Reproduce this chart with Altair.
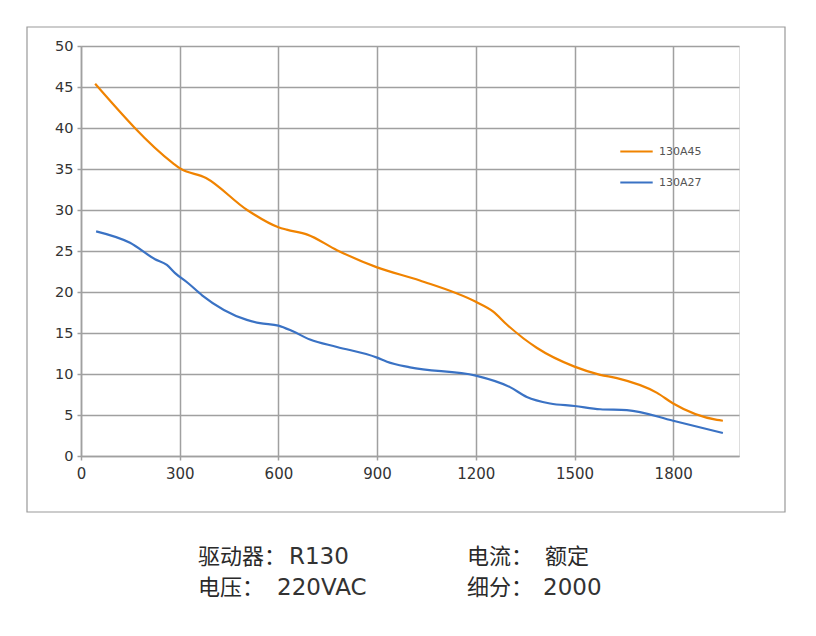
import altair as alt
import pandas as pd

# Data
a45_speed = [43, 280, 300, 380, 505, 600, 625, 688, 778, 900, 1030, 1200, 1253, 1295, 1385, 1500, 1578, 1629, 1751, 1800, 1933, 1951]
a45_torque = [45.4, 35.7, 35.1, 33.9, 30.0, 27.9, 27.6, 27.0, 25.1, 23.0, 21.4, 18.8, 17.6, 16.0, 13.2, 10.9, 9.9, 9.5, 7.7, 6.4, 4.4, 4.3]
a27_speed = [46, 149, 225, 261, 286, 325, 368, 504, 544, 600, 644, 696, 778, 900, 930, 1000, 1200, 1304, 1355, 1426, 1500, 1578, 1659, 1800, 1951]
a27_torque = [27.4, 26.0, 24.0, 23.3, 22.3, 21.1, 19.6, 16.6, 16.2, 15.9, 15.2, 14.2, 13.3, 12.0, 11.5, 10.8, 9.8, 8.4, 7.2, 6.4, 6.1, 5.7, 5.6, 4.3, 2.8]
series_names = ["130A45", "130A27"]
series_colors = ["#F08300", "#3A72C4"]
x_ticks = [0, 300, 600, 900, 1200, 1500, 1800]
y_ticks = [0, 5, 10, 15, 20, 25, 30, 35, 40, 45, 50]
caption_keys = ["驱动器：", "电压：", "电流：", "细分："]
caption_values = ["R130", "220VAC", "额定", "2000"]

rows = []
for s, t in zip(a45_speed, a45_torque):
    rows.append({"speed": s, "torque": t, "series": series_names[0]})
for s, t in zip(a27_speed, a27_torque):
    rows.append({"speed": s, "torque": t, "series": series_names[1]})
df = pd.DataFrame(rows)

W, H = 658, 410
grid_color = "#a0a0a0"

lines = alt.Chart(df).mark_line(strokeWidth=2.2, interpolate="monotone").encode(
    x=alt.X("speed:Q", scale=alt.Scale(domain=[0, 2000], nice=False),
            axis=alt.Axis(values=x_ticks, format="d", title=None, grid=True, gridColor=grid_color, gridWidth=1.5,
                          domainColor=grid_color, domainWidth=1.5, tickColor=grid_color, tickWidth=1.5,
                          tickSize=4, labelPadding=6, labelFontSize=15, labelColor="#333",
                          labelFont="DejaVu Sans", labelFlush=False)),
    y=alt.Y("torque:Q", scale=alt.Scale(domain=[0, 50], nice=False),
            axis=alt.Axis(values=y_ticks, title=None, grid=True, gridColor=grid_color, gridWidth=1.5,
                          domainColor=grid_color, domainWidth=1.5, tickColor=grid_color, tickWidth=1.5,
                          tickSize=4, labelPadding=4, labelFontSize=14.5, labelColor="#333",
                          labelFont="DejaVu Sans")),
    color=alt.Color("series:N", scale=alt.Scale(domain=series_names, range=series_colors),
                    legend=alt.Legend(title=None, orient="none", legendX=538, legendY=88,
                                      symbolType="stroke", symbolSize=1050, symbolStrokeWidth=2.2,
                                      labelFontSize=11, labelColor="#555", labelFont="DejaVu Sans",
                                      labelOffset=5, rowPadding=8)),
)

frame = alt.Chart(pd.DataFrame({"k": [0]})).mark_rect(fill=None, stroke="#999", strokeWidth=1.2).encode(
    x=alt.value(-54), x2=alt.value(704), y=alt.value(-19), y2=alt.value(466)
)

cap_df = pd.DataFrame({"t": caption_keys,
                       "px": [117, 117, 386, 386],
                       "py": [511, 542, 511, 542]})
caps = alt.Chart(cap_df).mark_text(align="left", baseline="middle", fontSize=22,
                                   font="Noto Sans CJK SC", color="#2a2a2a").encode(
    x=alt.X("px:Q", scale=None), y=alt.Y("py:Q", scale=None), text="t:N"
)

val_df = pd.DataFrame({"t": caption_values,
                       "px": [208, 196, 464, 462],
                       "py": [511, 542, 511, 542],
                       "kind": ["latin", "latin", "cjk", "latin"]})
vals_latin = alt.Chart(val_df).transform_filter(alt.datum.kind == "latin").mark_text(
    align="left", baseline="middle", fontSize=23, font="DejaVu Sans", color="#333"
).encode(x=alt.X("px:Q", scale=None), y=alt.Y("py:Q", scale=None), text="t:N")
vals_cjk = alt.Chart(val_df).transform_filter(alt.datum.kind == "cjk").mark_text(
    align="left", baseline="middle", fontSize=22, font="Noto Sans CJK SC", color="#2a2a2a"
).encode(x=alt.X("px:Q", scale=None), y=alt.Y("py:Q", scale=None), text="t:N")

chart = alt.layer(frame, lines, caps, vals_latin, vals_cjk).properties(
    width=W, height=H,
    padding={"left": 81, "top": 46, "right": 77, "bottom": 180},
    autosize=alt.AutoSizeParams(type="none"),
).configure_view(stroke=None).configure(background="white")

chart.save("out.html", embed_options={"renderer": "svg", "actions": False})
